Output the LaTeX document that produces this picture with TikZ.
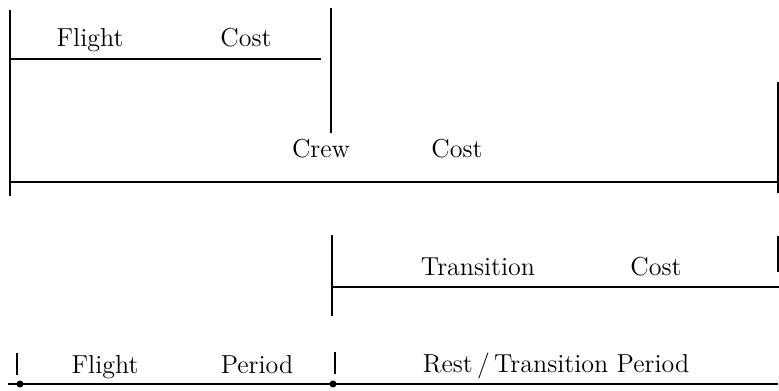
\documentclass[tikz,border=0pt]{standalone}
\begin{document}
\begin{tikzpicture}[x=0.02cm, y=-0.02cm, font=\fontsize{14.8}{17}\selectfont,
  lbl/.style={anchor=base, inner sep=0pt},
  bar/.style={line width=1pt},
  dot/.style={circle, fill=black, inner sep=0pt, minimum size=4pt}]
\useasboundingbox (0,0) rectangle (779,390);
% flight cost
\coordinate (fctop) at (10,10);
\coordinate (fcbot) at (10,196);
\coordinate (fcl) at (10,59);
\coordinate (fcr) at (321,59);
\coordinate (fcendt) at (331,8);
\coordinate (fcendb) at (331,133);
\node[lbl] (fcflight) at (90,46) {Flight};
\node[lbl] (fccost) at (246,46) {Cost};
\draw[bar] (fctop) -- (fcbot);
\draw[bar] (fcl) -- (fcr);
\draw[bar] (fcendt) -- (fcendb);
% crew cost
\coordinate (ccl) at (10,182);
\coordinate (ccr) at (779,182);
\coordinate (ccendt) at (778,82);
\coordinate (ccendb) at (778,193);
\node[lbl] (cccrew) at (321,157) {Crew};
\node[lbl] (cccost) at (457,157) {Cost};
\draw[bar] (ccl) -- (ccr);
\draw[bar] (ccendt) -- (ccendb);
% transition cost
\coordinate (tctop) at (332,235);
\coordinate (tcbot) at (332,316);
\coordinate (tcl) at (332,287);
\coordinate (tcr) at (779,287);
\coordinate (tcendt) at (778,236);
\coordinate (tcendb) at (778,272);
\node[lbl] (tctrans) at (478,275) {Transition};
\node[lbl] (tccost) at (656,275) {Cost};
\draw[bar] (tctop) -- (tcbot);
\draw[bar] (tcl) -- (tcr);
\draw[line width=0.6pt] (tcendt) -- (tcendb);
% periods
\coordinate (fpt) at (17,353);
\coordinate (fpb) at (17,375);
\coordinate (rpt) at (335,352);
\coordinate (rpb) at (335,374);
\coordinate (axl) at (8,384);
\coordinate (axr) at (778,384);
\node[dot] (fpdot) at (20,384) {};
\node[dot] (rpdot) at (333,384) {};
\node[lbl] (fpflight) at (105,373) {Flight};
\node[lbl] (fpperiod) at (257,373) {Period};
\node[lbl] (rpperiod) at (556,372) {Rest\,/\,Transition Period};
\draw[bar] (fpt) -- (fpb);
\draw[bar] (rpt) -- (rpb);
\draw[line width=0.8pt] (axl) -- (axr);
\end{tikzpicture}
\end{document}
